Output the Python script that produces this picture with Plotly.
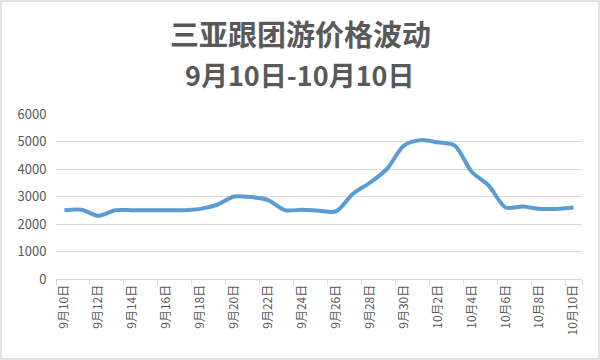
import plotly.graph_objects as go

dates = ["9月%d日" % d for d in range(10, 31)] + ["10月%d日" % d for d in range(1, 11)]
prices = [2500, 2520, 2300, 2500, 2500, 2500, 2500, 2500, 2550, 2700,
          3000, 2980, 2870, 2500, 2520, 2480, 2460, 3100, 3500, 4000,
          4850, 5050, 4970, 4850, 3900, 3400, 2600, 2640, 2550, 2550, 2600]
title_lines = ["三亚跟团游价格波动", "9月10日-10月10日"]
y_ticks = [0, 1000, 2000, 3000, 4000, 5000, 6000]

W, H = 600, 360
ml, mr, mt, mb = 56, 18, 114, 81

fig = go.Figure()
fig.add_trace(go.Scatter(
    x=dates, y=prices, mode="lines",
    line=dict(color="#5B9BD5", width=4, shape="spline", smoothing=0.8),
    hoverinfo="x+y", showlegend=False))

pw = W - ml - mr
ph = H - mt - mb
fig.add_shape(type="rect", xref="paper", yref="paper",
              x0=(-ml + 1) / pw, x1=(pw + mr - 1) / pw,
              y0=(-mb + 1) / ph, y1=(ph + mt - 1) / ph,
              line=dict(color="#D9D9D9", width=1.5), fillcolor="rgba(0,0,0,0)",
              layer="below")

title_y = [33, 74]
title_sizes = [29, 27]
for txt, yy, sz in zip(title_lines, title_y, title_sizes):
    fig.add_annotation(text="<b>" + txt + "</b>", xref="paper", yref="paper",
                       x=(300 - ml) / pw, y=(H - mb - yy) / ph,
                       xanchor="center", yanchor="middle", showarrow=False,
                       font=dict(size=sz, color="#595959"))

fig.update_layout(
    width=W, height=H,
    margin=dict(l=ml, r=mr, t=mt, b=mb),
    paper_bgcolor="white", plot_bgcolor="white",
    font=dict(family="Noto Sans CJK SC, Liberation Sans, sans-serif", color="#595959"),
    xaxis=dict(type="category", range=[-0.5, len(dates) - 0.5],
               tickmode="array", tickvals=dates[::2], ticktext=dates[::2],
               tickangle=-90, tickfont=dict(size=12, color="#595959"),
               ticks="outside", ticklen=5, tickcolor="#D9D9D9", tickson="boundaries",
               showline=True, linecolor="#D9D9D9", linewidth=1,
               showgrid=False, fixedrange=True, automargin=False),
    yaxis=dict(range=[0, 6000], tickvals=y_ticks,
               tickfont=dict(size=13, color="#595959"),
               showgrid=True, gridcolor="#D9D9D9", gridwidth=1,
               zeroline=False, showline=False, ticks="outside", ticklen=6,
               tickcolor="rgba(0,0,0,0)", fixedrange=True, automargin=False),
)

fig.write_html("out.html", config={"displayModeBar": False},
               post_script="document.body.style.margin='0';document.body.style.overflow='hidden';")
